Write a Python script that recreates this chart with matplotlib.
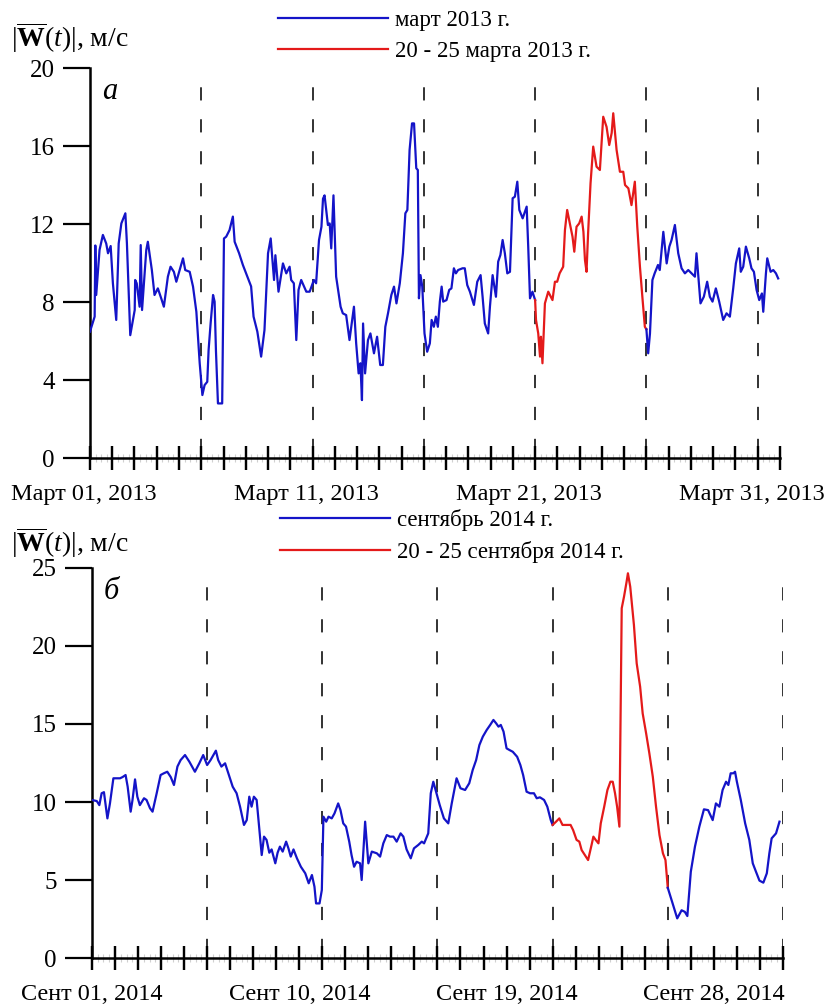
import numpy as np
import matplotlib
matplotlib.use("Agg")
import matplotlib.pyplot as plt
from matplotlib.ticker import MultipleLocator
from matplotlib.transforms import ScaledTranslation

plt.rcParams["font.family"] = ["Liberation Serif", "DejaVu Serif"]
plt.rcParams["mathtext.fontset"] = "custom"
plt.rcParams["mathtext.rm"] = "Liberation Serif"
plt.rcParams["mathtext.it"] = "Liberation Serif:italic"
plt.rcParams["mathtext.bf"] = "Liberation Serif:bold"

BLUE = "#1414c8"
RED = "#e41a1a"

# --- March 2013 (days since Mar 01) ---
mar_days = [
    0.00, 0.21, 0.24, 0.28, 0.43, 0.58, 0.73, 0.81, 0.93, 1.03, 1.18, 1.29, 1.41, 1.59, 1.66,
    1.81, 2.01, 2.03, 2.10, 2.23, 2.28, 2.34, 2.53, 2.60, 2.78, 2.90, 3.05, 3.20, 3.32, 3.50,
    3.62, 3.77, 3.88, 4.03, 4.18, 4.28, 4.48, 4.63, 4.78, 4.93, 5.05, 5.15, 5.27, 5.33, 5.42,
    5.53, 5.60, 5.66, 5.75, 5.94, 6.02, 6.12, 6.27, 6.42, 6.50, 6.70, 6.87, 7.10, 7.24, 7.35,
    7.52, 7.69, 7.84, 8.00, 8.12, 8.18, 8.27, 8.33, 8.47, 8.67, 8.82, 8.97, 9.04, 9.16, 9.27,
    9.37, 9.49, 9.72, 9.87, 10.06, 10.16, 10.29, 10.40, 10.47, 10.54, 10.69, 10.77, 10.84, 10.94, 11.06,
    11.26, 11.36, 11.51, 11.66, 11.86, 11.96, 12.07, 12.15, 12.22, 12.27, 12.36, 12.49, 12.60, 12.76, 12.90,
    13.04, 13.16, 13.27, 13.39, 13.54, 13.66, 13.77, 13.92, 14.06, 14.17, 14.26, 14.36, 14.47, 14.56, 14.66,
    14.73, 14.78, 14.85, 14.93, 15.03, 15.15, 15.27, 15.35, 15.45, 15.54, 15.63, 15.72, 15.80, 15.87, 16.02,
    16.14, 16.24, 16.35, 16.44, 16.54, 16.74, 16.84, 16.95, 17.07, 17.25, 17.40, 17.55, 17.64, 17.74, 17.89,
    17.97, 18.09, 18.24, 18.34, 18.44, 18.54, 18.64, 18.75, 18.87, 18.99, 19.09, 19.20, 19.29, 19.44, 19.62,
    19.69, 19.77, 19.88, 20.00, 20.04, 20.14, 20.22, 20.26, 20.33, 20.44, 20.59, 20.78, 20.89, 20.99, 21.10,
    21.26, 21.34, 21.44, 21.56, 21.68, 21.76, 21.86, 21.98, 22.09, 22.17, 22.24, 22.31, 22.38, 22.49, 22.61,
    22.76, 22.91, 23.06, 23.21, 23.33, 23.44, 23.51, 23.66, 23.81, 23.96, 24.04, 24.19, 24.33, 24.48, 24.59,
    24.71, 24.83, 24.93, 25.00, 25.08, 25.16, 25.27, 25.37, 25.52, 25.60, 25.76, 25.91, 26.03, 26.13, 26.28,
    26.43, 26.58, 26.73, 26.88, 27.03, 27.18, 27.25, 27.43, 27.58, 27.73, 27.85, 27.97, 28.12, 28.27, 28.45,
    28.60, 28.75, 28.90, 29.02, 29.17, 29.24, 29.35, 29.47, 29.62, 29.72, 29.83, 29.95, 30.07, 30.19, 30.25,
    30.37, 30.43, 30.58, 30.70, 30.82, 30.92,
]
mar_vals = [
    6.48, 7.25, 10.90, 8.36, 10.67, 11.44, 11.00, 10.50, 10.87, 8.96, 7.08, 11.00, 12.03, 12.55, 11.00,
    6.30, 7.59, 9.13, 8.96, 7.76, 10.92, 7.59, 10.67, 11.09, 9.64, 8.36, 8.70, 8.19, 7.76, 9.30,
    9.81, 9.55, 9.04, 9.64, 10.24, 9.64, 9.55, 8.79, 7.50, 4.86, 3.23, 3.74, 3.91, 5.54, 6.90,
    8.36, 8.02, 5.50, 2.80, 2.80, 11.26, 11.35, 11.69, 12.38, 11.09, 10.50, 9.90, 9.21, 8.80, 7.25,
    6.48, 5.20, 6.56, 10.50, 11.26, 10.40, 9.13, 10.40, 8.53, 9.98, 9.47, 9.81, 9.13, 8.96, 6.05,
    8.62, 9.13, 8.53, 8.53, 9.13, 8.96, 11.18, 11.86, 13.30, 13.47, 11.95, 12.03, 10.75, 13.47, 9.30,
    7.76, 7.42, 7.33, 6.05, 7.76, 5.88, 4.34, 4.86, 2.97, 6.90, 4.34, 6.05, 6.39, 5.37, 6.22,
    4.77, 4.77, 6.73, 7.42, 8.36, 8.79, 7.93, 8.96, 10.50, 12.55, 12.72, 15.80, 17.16, 17.16, 14.86,
    14.77, 8.19, 9.38, 8.79, 6.39, 5.45, 5.88, 7.08, 6.73, 7.25, 6.73, 8.02, 8.79, 8.02, 8.10,
    8.62, 8.70, 9.73, 9.47, 9.64, 9.73, 9.73, 8.87, 8.53, 7.85, 9.04, 9.38, 8.27, 6.90, 6.39,
    7.76, 9.38, 8.27, 10.07, 10.41, 11.18, 10.50, 9.47, 9.55, 13.32, 13.40, 14.17, 12.72, 12.29, 12.89,
    10.84, 8.19, 8.53, 8.10, 7.08, 6.39, 5.20, 6.22, 4.86, 7.93, 8.53, 8.10, 9.04, 9.04, 9.47,
    9.81, 11.69, 12.72, 12.03, 11.35, 10.58, 11.86, 12.03, 12.38, 11.60, 10.15, 9.55, 11.52, 14.09, 15.97,
    14.94, 14.77, 17.50, 16.98, 16.05, 16.67, 17.68, 15.80, 14.68, 14.68, 14.00, 13.83, 12.97, 14.17, 11.86,
    9.81, 8.10, 6.73, 6.60, 5.37, 6.39, 9.13, 9.47, 9.90, 9.64, 11.60, 9.98, 10.84, 11.18, 11.95,
    10.50, 9.73, 9.47, 9.64, 9.47, 9.30, 10.50, 7.93, 8.27, 9.04, 8.27, 8.02, 8.70, 8.02, 7.08,
    7.42, 7.25, 8.70, 9.98, 10.75, 9.55, 9.81, 10.84, 10.24, 9.73, 9.55, 8.62, 8.10, 8.44, 7.50,
    9.47, 10.24, 9.55, 9.64, 9.47, 9.21,
]

# --- September 2014 (days since Sep 01) ---
sep_days = [
    0.00, 0.21, 0.32, 0.42, 0.52, 0.67, 0.78, 0.93, 1.07, 1.22, 1.33, 1.46, 1.55, 1.68, 1.76,
    1.87, 1.97, 2.08, 2.26, 2.37, 2.52, 2.63, 2.81, 2.98, 3.12, 3.27, 3.42, 3.56, 3.71, 3.85,
    4.04, 4.23, 4.47, 4.66, 4.83, 5.00, 5.15, 5.23, 5.38, 5.48, 5.62, 5.78, 5.92, 6.11, 6.28,
    6.43, 6.60, 6.72, 6.83, 6.93, 7.03, 7.15, 7.27, 7.37, 7.47, 7.58, 7.70, 7.80, 7.96, 8.06,
    8.16, 8.28, 8.43, 8.53, 8.63, 8.75, 8.90, 9.07, 9.26, 9.41, 9.55, 9.66, 9.73, 9.88, 9.98,
    10.05, 10.17, 10.27, 10.41, 10.53, 10.69, 10.79, 10.91, 11.03, 11.17, 11.27, 11.38, 11.49, 11.64, 11.71,
    11.86, 12.00, 12.15, 12.37, 12.51, 12.65, 12.80, 12.94, 13.09, 13.23, 13.40, 13.52, 13.66, 13.84, 13.98,
    14.17, 14.32, 14.42, 14.60, 14.71, 14.82, 14.96, 15.10, 15.28, 15.47, 15.62, 15.83, 16.00, 16.20, 16.38,
    16.53, 16.68, 16.82, 16.97, 17.14, 17.29, 17.43, 17.55, 17.65, 17.75, 17.87, 18.00, 18.13, 18.27, 18.46,
    18.60, 18.72, 18.87, 19.02, 19.19, 19.31, 19.45, 19.63, 19.77, 19.92, 20.00, 20.15, 20.29, 20.43, 20.61,
    20.78, 20.89, 21.04, 21.16, 21.26, 21.40, 21.54, 21.69, 21.77, 21.87, 21.99, 22.09, 22.24, 22.38, 22.51,
    22.61, 22.71, 22.80, 22.90, 23.00, 23.10, 23.21, 23.27, 23.37, 23.53, 23.65, 23.80, 23.91, 24.06, 24.20,
    24.35, 24.49, 24.64, 24.79, 24.90, 25.00, 25.21, 25.41, 25.60, 25.74, 25.85, 26.00, 26.18, 26.37, 26.57,
    26.75, 26.95, 27.09, 27.24, 27.38, 27.53, 27.63, 27.73, 27.85, 27.92, 28.00, 28.17, 28.36, 28.54, 28.69,
    28.83, 28.98, 29.15, 29.30, 29.41, 29.51, 29.70, 29.85,
]
sep_vals = [
    10.13, 10.06, 9.80, 10.56, 10.63, 8.95, 9.90, 11.52, 11.52, 11.52, 11.60, 11.73, 10.98, 9.38, 10.13,
    11.45, 10.34, 9.80, 10.24, 10.13, 9.60, 9.38, 10.56, 11.73, 11.84, 11.94, 11.60, 11.09, 12.27, 12.69,
    13.01, 12.58, 11.94, 12.48, 13.01, 12.37, 12.69, 12.90, 13.29, 12.69, 12.27, 12.48, 11.84, 10.98, 10.56,
    9.70, 8.53, 8.84, 10.34, 9.70, 10.34, 10.13, 8.20, 6.60, 7.78, 7.57, 6.75, 6.96, 6.07, 6.75,
    7.14, 6.82, 7.46, 7.03, 6.50, 6.96, 6.39, 5.85, 5.43, 4.79, 5.32, 4.57, 3.50, 3.50, 4.36,
    9.06, 8.74, 9.06, 8.95, 9.27, 9.91, 9.48, 8.63, 8.42, 7.46, 6.60, 5.85, 6.17, 6.07, 5.00,
    8.74, 6.07, 6.82, 6.71, 6.50, 7.35, 7.88, 7.78, 7.78, 7.46, 7.99, 7.78, 6.96, 6.39, 7.03,
    7.25, 7.46, 7.35, 7.99, 10.56, 11.30, 10.56, 9.80, 8.95, 8.63, 9.91, 11.52, 10.88, 10.77, 11.20,
    12.05, 12.69, 13.65, 14.19, 14.62, 14.94, 15.26, 15.04, 14.83, 14.94, 14.51, 13.44, 13.33, 13.22, 12.90,
    12.37, 11.73, 10.66, 10.56, 10.56, 10.24, 10.30, 10.13, 9.70, 8.84, 8.53, 8.74, 8.95, 8.53, 8.53,
    8.53, 8.20, 7.57, 7.46, 6.92, 6.60, 6.28, 7.24, 7.78, 7.57, 7.35, 8.63, 9.70, 10.77, 11.30,
    11.30, 10.56, 9.70, 8.42, 22.42, 23.16, 24.10, 24.66, 23.80, 21.35, 18.89, 17.39, 15.68, 14.40, 13.12,
    11.62, 9.70, 7.88, 6.71, 6.28, 4.50, 3.50, 2.54, 3.06, 2.96, 2.69, 5.53, 7.14, 8.42, 9.53,
    9.48, 8.84, 9.91, 9.70, 10.77, 11.30, 11.09, 11.84, 11.84, 11.94, 11.30, 10.13, 8.63, 7.57, 6.07,
    5.53, 4.96, 4.83, 5.43, 6.71, 7.67, 7.99, 8.74,
]

storm_start, storm_end = 20, 25
dash_days = [5, 10, 15, 20, 25, 30]

panels = [
    dict(days=mar_days, vals=mar_vals, xmax=31, ymax=20, ystep=4,
         labels={0: "Март 01, 2013", 10: "Март 11, 2013", 20: "Март 21, 2013", 30: "Март 31, 2013"},
         label_shift=-6, letter="а", leg=("март 2013 г.", "20 - 25 марта 2013 г."),
         rect=[0.1084, 0.5447, 0.8313, 0.3877], ylab_y=0.963, leg_xy=(0.335, 0.990)),
    dict(days=sep_days, vals=sep_vals, xmax=30, ymax=25, ystep=5,
         labels={0: "Сент 01, 2014", 9: "Сент 10, 2014", 18: "Сент 19, 2014", 27: "Сент 28, 2014"},
         label_shift=0, letter="б", leg=("сентябрь 2014 г.", "20 - 25 сентября 2014 г."),
         rect=[0.1108, 0.0477, 0.8325, 0.3877], ylab_y=0.461, leg_xy=(0.337, 0.494)),
]

fig = plt.figure(figsize=(8.30, 10.06), dpi=100)

for p in panels:
    ax = fig.add_axes(p["rect"])
    d = np.array(p["days"])
    v = np.array(p["vals"])
    m1 = d <= storm_start
    m2 = (d >= storm_start) & (d <= storm_end)
    m3 = d >= storm_end
    l1, = ax.plot(d[m1], v[m1], color=BLUE, lw=1.6, zorder=3)
    l2, = ax.plot(d[m2], v[m2], color=RED, lw=1.6, zorder=3)
    ax.plot(d[m3], v[m3], color=BLUE, lw=1.6, zorder=3)

    # dashed markers every 5 days (dash pattern in points, lw=1.3)
    for x in dash_days:
        ax.plot([x, x], [0.015 * p["ymax"], 0.985 * p["ymax"]], color="#222222", lw=1.3,
                ls=(0, (7.3, 10.4)), zorder=2)

    ax.set_xlim(0, p["xmax"])
    ax.set_ylim(0, p["ymax"])
    for s in ("top", "right"):
        ax.spines[s].set_visible(False)
    ax.spines["left"].set_linewidth(1.8)
    ax.spines["bottom"].set_linewidth(1.8)

    ax.yaxis.set_major_locator(MultipleLocator(p["ystep"]))
    ax.tick_params(axis="y", direction="out", length=19.5, width=1.6, pad=6, labelsize=18)

    # one tick per day, only four of them labelled
    major = list(range(0, p["xmax"] + 1))
    ax.set_xticks(major)
    ax.set_xticklabels([p["labels"].get(i, "") for i in major])
    ax.tick_params(axis="x", which="major", direction="inout", length=17, width=1.6,
                   pad=10, labelsize=17.5)
    shift = ScaledTranslation(p["label_shift"] / 100, 0, fig.dpi_scale_trans)
    for lab in ax.get_xticklabels():
        lab.set_transform(lab.get_transform() + shift)

    # faint 6-hour marks and the crossing day marks along the time axis
    six_h = [i + f for i in range(p["xmax"]) for f in (0.25, 0.5, 0.75)]
    ax.plot(six_h, [0] * len(six_h), ls="none", marker="|", ms=6, mew=0.8,
            color="#d0d0d0", clip_on=False, zorder=1)
    ax.plot(major, [0] * len(major), ls="none", marker="|", ms=17, mew=1.6,
            color="black", clip_on=False, zorder=4)

    ax.text(0.028, 0.94, p["letter"], transform=ax.transAxes, fontsize=22,
            style="italic", ha="center", va="center")
    fig.text(0.013, p["ylab_y"], r"$|\overline{\mathbf{W}}(t)|$, м/с", fontsize=20,
             ha="left", va="center")

    fig.legend([l1, l2], list(p["leg"]), loc="upper left", bbox_to_anchor=p["leg_xy"],
               frameon=False, fontsize=16.5, handlelength=4.8, handletextpad=0.3,
               labelspacing=0.45, borderpad=0, borderaxespad=0)

fig.savefig("out.png", dpi=100)
